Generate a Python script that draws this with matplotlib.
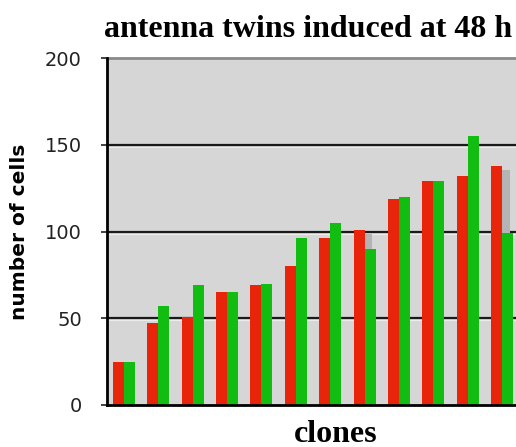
import numpy as np
import matplotlib
matplotlib.use("Agg")
import matplotlib.pyplot as plt

clones = np.arange(12)
red_cells = [25, 47, 51, 65, 69, 80, 96, 101, 119, 129, 132, 138]
green_cells = [25, 57, 69, 65, 70, 96, 105, 90, 120, 129, 155, 99]
y_ticks = [0, 50, 100, 150, 200]


def main():
    fig = plt.figure(figsize=(5.16, 4.47), dpi=100)
    ax = fig.add_axes([107 / 516, 42 / 447, 1 - 107 / 516, 347 / 447])

    w = 0.32
    # grey shadow behind the red bars (3D look of the original)
    ax.bar(clones - w / 2 + 0.22, np.array(red_cells) - 2.5, width=w, color="#b4b4b4", zorder=2)
    ax.bar(clones - w / 2, red_cells, width=w, color="#e8250a", zorder=3)
    ax.bar(clones + w / 2, green_cells, width=w, color="#12bd12", zorder=4)

    ax.set_facecolor("#d6d6d6")
    ax.set_ylim(0, 200)
    ax.set_xlim(-0.49, 11.4)
    ax.set_yticks(y_ticks)
    ax.set_xticks([])
    for y in y_ticks[1:4]:
        ax.axhline(y, color="#1a1a1a", lw=1.6, zorder=1)
        ax.axhline(y - 1.2, color="#ececec", lw=0.8, zorder=1)

    ax.spines["right"].set_visible(False)
    ax.spines["top"].set_color("#8a8a8a")
    ax.spines["top"].set_linewidth(2)
    ax.spines["left"].set_linewidth(2)
    ax.spines["bottom"].set_linewidth(2)
    ax.spines["left"].set_zorder(5)
    ax.spines["bottom"].set_zorder(5)

    ax.tick_params(axis="y", length=4, width=1.2, pad=14, labelsize=14,
                   colors="#222222")
    ax.set_ylabel("number of cells", fontsize=14.5, fontweight="bold")
    ax.yaxis.set_label_coords(-(107 - 29) / 409, 0.5)
    ax.set_title("antenna twins induced at 48 h", fontsize=23, fontweight="bold",
                 family="Liberation Serif", pad=15, x=(308 - 107) / 409)
    fig.text(336 / 516, 1 - 434 / 447, "clones", fontsize=23, fontweight="bold",
             family="Liberation Serif", ha="center", va="center")

    fig.savefig("out.png", dpi=100)


if __name__ == "__main__":
    main()
